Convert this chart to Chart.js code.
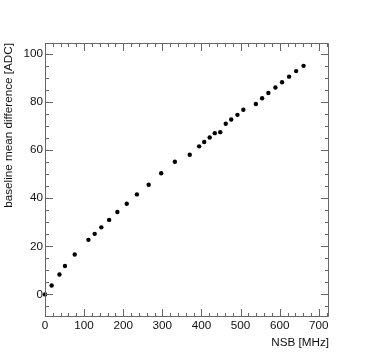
<!DOCTYPE html>
<html lang="en">
<head>
    <meta charset="UTF-8">
    <title>baseline mean difference vs NSB</title>
    <script src="https://cdn.jsdelivr.net/npm/chart.js"></script>
    <style>
        body { margin: 0; background: #fff; }
    </style>
</head>
<body>
    <canvas id="nsb-chart" width="374" height="361"></canvas>

    <script>
        // NSB rate [MHz]
        const nsb = [0, 17, 37, 51, 76, 111, 127, 144, 164, 185, 209, 235, 265,
            297, 332, 370, 394, 407, 421, 434, 448, 462, 476, 492, 507,
            539, 555, 571, 589, 606, 624, 642, 661];
        // baseline mean difference [ADC]
        const baselineDiff = [0, 3.7, 8.3, 11.8, 16.6, 22.7, 25.2, 27.9, 31.0, 34.3, 37.7, 41.6, 45.6,
            50.4, 55.2, 58.1, 61.6, 63.4, 65.3, 67.1, 67.5, 71.0, 72.8, 74.7, 76.8,
            79.2, 81.6, 83.8, 86.1, 88.3, 90.6, 92.9, 95.1];

        const xRange = [0, 726];
        const yRange = [-9.4, 104.6];
        const xSteps = { major: 100, minor: 20 };
        const ySteps = { major: 20, minor: 5 };

        const points = nsb.map((v, i) => ({ x: v, y: baselineDiff[i] }));

        const tickFont = { family: 'Liberation Sans, Arial, sans-serif', size: 11.7 };

        // ROOT-like frame with ticks pointing inwards on all four sides
        const framePlugin = {
            id: 'frame',
            afterDraw(chart) {
                const ctx = chart.ctx;
                const a = chart.chartArea;
                const xs = chart.scales.x;
                const ys = chart.scales.y;
                ctx.save();
                ctx.strokeStyle = '#666';
                ctx.lineWidth = 1;
                ctx.beginPath();
                ctx.rect(Math.round(a.left) + 0.5, Math.round(a.top) + 0.5,
                    Math.round(a.right - a.left) - 1, Math.round(a.bottom - a.top) - 1);
                for (let v = xRange[0]; v <= xRange[1]; v += xSteps.minor) {
                    const len = (v % xSteps.major === 0) ? 8 : 4;
                    const px = Math.round(xs.getPixelForValue(v)) + 0.5;
                    ctx.moveTo(px, a.bottom);
                    ctx.lineTo(px, a.bottom - len);
                    ctx.moveTo(px, a.top);
                    ctx.lineTo(px, a.top + len);
                }
                const yStart = Math.ceil(yRange[0] / ySteps.minor) * ySteps.minor;
                for (let v = yStart; v <= yRange[1]; v += ySteps.minor) {
                    const len = (v % ySteps.major === 0) ? 8 : 4;
                    const py = Math.round(ys.getPixelForValue(v)) + 0.5;
                    ctx.moveTo(a.left, py);
                    ctx.lineTo(a.left + len, py);
                    ctx.moveTo(a.right, py);
                    ctx.lineTo(a.right - len, py);
                }
                ctx.stroke();
                ctx.restore();
            }
        };

        new Chart(document.getElementById('nsb-chart').getContext('2d'), {
            type: 'scatter',
            data: {
                datasets: [{
                    data: points,
                    backgroundColor: '#000',
                    borderColor: '#000',
                    pointRadius: 2.2,
                    pointBorderWidth: 0,
                    clip: false
                }]
            },
            options: {
                responsive: false,
                animation: false,
                layout: { padding: { top: 43, right: 45, bottom: 0, left: 0 } },
                plugins: {
                    legend: { display: false },
                    tooltip: { enabled: false }
                },
                scales: {
                    x: {
                        type: 'linear',
                        min: xRange[0],
                        max: xRange[1],
                        grid: { display: false, drawTicks: false },
                        border: { display: false },
                        ticks: {
                            stepSize: xSteps.major,
                            includeBounds: false,
                            autoSkip: false,
                            maxRotation: 0,
                            padding: 2,
                            color: '#111',
                            font: tickFont
                        },
                        title: {
                            display: true,
                            text: 'NSB [MHz]',
                            align: 'end',
                            color: '#111',
                            font: tickFont,
                            padding: { top: 0, bottom: 11 }
                        },
                        afterFit(scale) { scale.height = 44; }
                    },
                    y: {
                        type: 'linear',
                        min: yRange[0],
                        max: yRange[1],
                        grid: { display: false, drawTicks: false },
                        border: { display: false },
                        ticks: {
                            stepSize: ySteps.major,
                            includeBounds: false,
                            autoSkip: false,
                            padding: 2,
                            color: '#111',
                            font: tickFont
                        },
                        title: {
                            display: true,
                            text: 'baseline mean difference [ADC]',
                            align: 'end',
                            color: '#111',
                            font: tickFont,
                            padding: { top: 1.5, bottom: 0 }
                        },
                        afterFit(scale) { scale.width = 45; }
                    }
                }
            },
            plugins: [framePlugin]
        });
    </script>
</body>
</html>
